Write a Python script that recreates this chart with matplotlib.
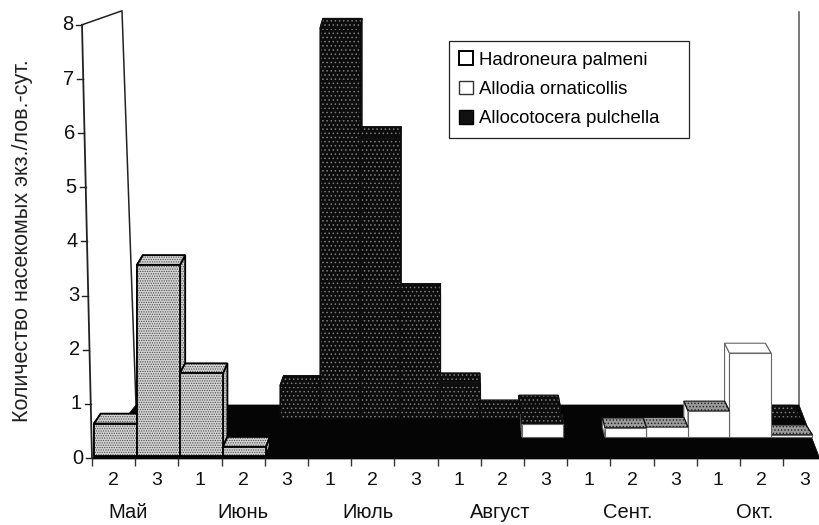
import matplotlib
matplotlib.use('Agg')
import matplotlib.pyplot as plt
from matplotlib.patches import Polygon, Patch

plt.rcParams['font.family'] = ['Liberation Sans', 'DejaVu Sans']
plt.rcParams['hatch.linewidth'] = 0.6

# подписи
decades = ['2', '3', '1', '2', '3', '1', '2', '3', '1', '2', '3', '1', '2', '3', '1', '2', '3']
months = ['Май', 'Июнь', 'Июль', 'Август', 'Сент.', 'Окт.']
month_pos = [0.83, 3.5, 6.4, 9.45, 12.4, 15.35]
y_ticks = [0, 1, 2, 3, 4, 5, 6, 7, 8]

# значения рядов, слева направо по декадам
hadroneura = [0.6, 3.53, 1.53, 0.17, 0, 0, 0, 0, 0, 0, 0, 0, 0, 0, 0, 0, 0]
allodia = [0, 0, 0, 0, 0, 0, 0, 0, 0, 0, 0.24, 0, 0.17, 0.18, 0.48, 1.55, 0.04]
allocotocera = [0, 0, 0, 0, 0.6, 7.2, 5.2, 2.3, 0.65, 0.15, 0.24, 0, 0, 0, 0, 0, 0.05]

# заливка, цвет точек, штриховка, цвет и толщина контура
LIGHT = ('#d4d4d4', '#4a4a4a', '.......', 'black', 1.3)
WHITE = ('#ffffff', '#ffffff', None, '#666666', 0.8)
DARK = ('#0c0c0c', '#7c7c7c', '....', '#0c0c0c', 0.8)
GRAY_TOP = ('#9a9a9a', '#222222', '.....', '#0c0c0c', 0.8)

W, H = 820, 525
X0, Y0 = 92, 458
STEP_X, STEP_Y = 43.2, 54.1

fig = plt.figure(figsize=(W / 100, H / 100), dpi=100)
ax = fig.add_axes([X0 / W, (H - Y0) / H, (W - X0) / W, (Y0 - 25) / H])
ax.set_xlim(0, (W - X0) / STEP_X)
ax.set_ylim(0, 8)
for s in ax.spines.values():
    s.set_visible(False)


def px(x, y):
    """пиксели картинки -> координаты осей"""
    return (x - X0) / STEP_X, (Y0 - y) / STEP_Y


def project(cat, depth, val):
    """перспектива: ряд depth сдвинут вглубь и немного сжат"""
    x = (94 + 13 * depth + (43 - 1.5 * depth) * cat - X0) / STEP_X
    y = val + (Y0 - 456 + 19 * depth) / STEP_Y
    return x, y


def face(points, style, z):
    fc, hc, hatch, ec, lw = style
    ax.add_patch(Polygon(points, closed=True, facecolor=fc, edgecolor=hc, hatch=hatch,
                         lw=0, clip_on=False, zorder=z))
    ax.add_patch(Polygon(points, closed=True, fill=False, edgecolor=ec, lw=lw,
                         clip_on=False, zorder=z + 0.01))


def draw_row(values, row, style, top_style=None, top_by_cat=None, base_z=2):
    top_style = top_style or style
    top_by_cat = top_by_cat or {}
    d0, d1 = row, row + 0.52
    # сначала крайние бары, потом ближние к центру перспективы
    order = sorted(range(len(values)), key=lambda i: -abs(i - 8.67))
    for n, i in enumerate(order):
        v = values[i]
        if v <= 0:
            continue
        z = base_z + n * 0.1
        face([project(i, d0, 0), project(i, d1, 0), project(i, d1, v), project(i, d0, v)], style, z)
        face([project(i + 1, d0, 0), project(i + 1, d1, 0), project(i + 1, d1, v), project(i + 1, d0, v)], style, z)
        face([project(i, d0, v), project(i + 1, d0, v), project(i + 1, d1, v), project(i, d1, v)],
             top_by_cat.get(i, top_style), z + 0.02)
        face([project(i, d0, 0), project(i + 1, d0, 0), project(i + 1, d0, v), project(i, d0, v)], style, z + 0.03)


# стенки и пол
wall = [px(82, 25), px(122, 11), px(136, 405)]
ax.plot([p[0] for p in wall], [p[1] for p in wall], color='#222222', lw=1.1, clip_on=False, zorder=1)
ax.plot(*zip(px(82, 25), px(92, 458)), color='#222222', lw=1.3, clip_on=False, zorder=1)
ax.plot(*zip(px(799, 12), px(799, 405)), color='#555555', lw=1.1, clip_on=False, zorder=1)
floor = [px(92, 459), px(820, 459), px(799, 405), px(136, 405)]
ax.add_patch(Polygon(floor, closed=True, facecolor='#050505', edgecolor='#050505', lw=0.5,
                     clip_on=False, zorder=1.5))

draw_row(allocotocera, 2, DARK, base_z=2)
draw_row(allodia, 1, WHITE, top_style=GRAY_TOP, top_by_cat={10: DARK, 15: WHITE}, base_z=6)
draw_row(hadroneura, 0, LIGHT, base_z=10)

# ось Y с наклоном
for v in y_ticks:
    x_off = -10 / STEP_X * v / 8
    ax.plot([x_off - 6 / STEP_X, x_off], [v, v], color='#222222', lw=1.0, clip_on=False, zorder=1)
    ax.text(x_off - 9 / STEP_X, v, str(v), ha='right', va='center', fontsize=14.5, color='#111111')

# ось X
ax.set_yticks([])
ax.set_xticks(range(17))
ax.set_xticklabels([])
ax.set_xticks([i + 0.5 for i in range(len(decades))], minor=True)
ax.set_xticklabels(decades, minor=True, fontsize=14, color='#111111')
ax.tick_params(axis='x', which='major', length=6, width=1, color='#333333')
ax.tick_params(axis='x', which='minor', length=0, pad=10)

month_y = px(0, 512)[1]
for name, pos in zip(months, month_pos):
    ax.text(pos, month_y, name, ha='center', va='center', fontsize=14.5, color='#111111', clip_on=False)

fig.text(23 / W, 1 - 241 / H, 'Количество насекомых экз./лов.-сут.', rotation=90,
         ha='center', va='center', fontsize=15.5, color='#222222')

handles = [
    Patch(facecolor='white', edgecolor='black', lw=1.4, label='Hadroneura palmeni'),
    Patch(facecolor='white', edgecolor='#333333', lw=1.0, label='Allodia ornaticollis'),
    Patch(facecolor='#111111', edgecolor='black', lw=1.0, label='Allocotocera pulchella'),
]
leg = ax.legend(handles=handles, loc='upper left',
                bbox_to_anchor=(449 / W, 1 - 131 / H, 240 / W, 90 / H),
                bbox_transform=fig.transFigure, fontsize=13.4, fancybox=False,
                edgecolor='#222222', framealpha=1, handlelength=0.75, handleheight=0.75,
                handletextpad=0.3, labelspacing=0.65, borderpad=0.55, mode='expand',
                borderaxespad=0)
leg.get_frame().set_linewidth(0.9)
leg.set_zorder(20)

fig.savefig('out.png', dpi=100)
